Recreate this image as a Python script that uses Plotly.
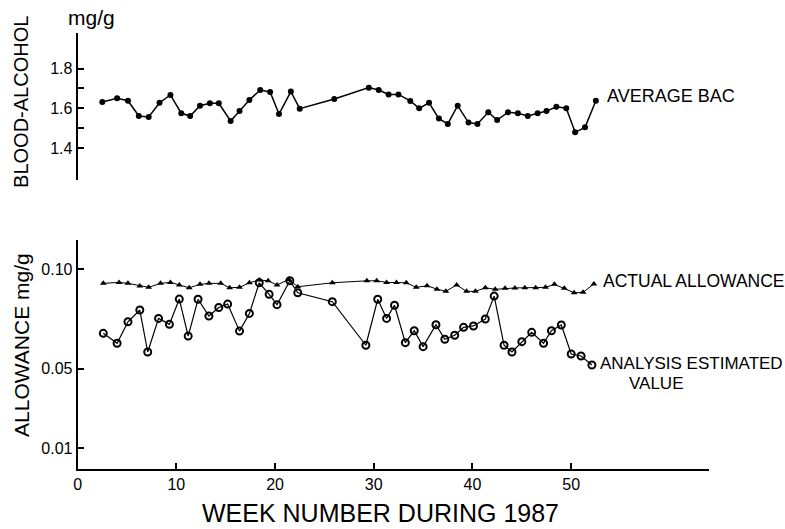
import plotly.graph_objects as go

# ---- data ----
bac_week = [2.5, 4.0, 5.1, 6.2, 7.2, 8.3, 9.4, 10.5, 11.4, 12.4, 13.4, 14.3, 15.5, 16.4, 17.4,
            18.5, 19.5, 20.4, 21.6, 22.5, 26.0, 29.5, 30.5, 31.5, 32.5, 33.7, 34.6, 35.6, 36.6,
            37.5, 38.5, 39.6, 40.5, 41.6, 42.5, 43.6, 44.6, 45.6, 46.6, 47.5, 48.5, 49.5, 50.4,
            51.4, 52.5]
bac_value = [1.632, 1.650, 1.638, 1.561, 1.556, 1.628, 1.667, 1.575, 1.561, 1.613, 1.625, 1.625,
             1.536, 1.586, 1.642, 1.692, 1.682, 1.571, 1.684, 1.598, 1.647, 1.704, 1.692, 1.670,
             1.670, 1.637, 1.600, 1.628, 1.548, 1.521, 1.613, 1.528, 1.521, 1.580, 1.541, 1.580,
             1.575, 1.561, 1.575, 1.586, 1.608, 1.600, 1.479, 1.504, 1.638]

actual_week = [2.6, 4.2, 5.1, 6.3, 7.2, 8.4, 9.4, 10.3, 11.3, 12.4, 13.3, 14.5, 15.4, 16.4, 17.4,
               18.4, 19.3, 20.2, 21.4, 22.3, 25.8, 29.3, 30.3, 31.3, 32.3, 33.3, 34.3, 35.4, 36.4,
               37.3, 38.4, 39.4, 40.3, 41.3, 42.3, 43.3, 44.3, 45.3, 46.4, 47.4, 48.3, 49.3, 50.3,
               51.2, 52.3]
actual_value = [0.0928, 0.0933, 0.0928, 0.0915, 0.0908, 0.0928, 0.0933, 0.0920, 0.0906, 0.0923,
                0.0928, 0.0928, 0.0906, 0.0908, 0.0931, 0.0945, 0.0941, 0.0920, 0.0948, 0.0911,
                0.0931, 0.0941, 0.0941, 0.0933, 0.0933, 0.0931, 0.0908, 0.0916, 0.0899, 0.0888,
                0.0920, 0.0888, 0.0888, 0.0906, 0.0898, 0.0903, 0.0905, 0.0906, 0.0906, 0.0908,
                0.0923, 0.0903, 0.0881, 0.0883, 0.0925]

est_week = [2.6, 4.0, 5.1, 6.3, 7.1, 8.2, 9.3, 10.3, 11.2, 12.2, 13.3, 14.3, 15.2, 16.4, 17.4,
            18.4, 19.4, 20.2, 21.5, 22.3, 25.8, 29.2, 30.4, 31.3, 32.1, 33.2, 34.1, 35.0, 36.3,
            37.2, 38.2, 39.1, 40.1, 41.3, 42.2, 43.2, 44.0, 45.0, 46.0, 47.2, 48.0, 49.0, 50.0,
            51.0, 52.1]
est_value = [0.0677, 0.0627, 0.0735, 0.0794, 0.0583, 0.0752, 0.0722, 0.0849, 0.0663, 0.0848,
             0.0764, 0.0807, 0.0824, 0.0688, 0.0777, 0.0931, 0.0873, 0.0821, 0.0941, 0.0881,
             0.0836, 0.0617, 0.0848, 0.0752, 0.0818, 0.0630, 0.0690, 0.0610, 0.0720, 0.0647,
             0.0667, 0.0707, 0.0714, 0.0749, 0.0864, 0.0617, 0.0583, 0.0635, 0.0682, 0.0627,
             0.0690, 0.0719, 0.0573, 0.0563, 0.0518]

x_ticks = [0, 10, 20, 30, 40, 50]
top_ticks = [1.4, 1.5, 1.6, 1.7, 1.8]
top_ticktext = ["1.4", "", "1.6", "", "1.8"]
bot_ticks = [0.01, 0.05, 0.10]
bot_ticktext = ["0.01", "0.05", "0.10"]

FONT = "Liberation Sans, Arial, sans-serif"
W, H = 785, 529

fig = go.Figure()

fig.add_trace(go.Scatter(x=bac_week, y=bac_value, mode="lines+markers",
                         line=dict(color="black", width=1.5),
                         marker=dict(symbol="circle", size=6, color="black"),
                         xaxis="x2", yaxis="y2", showlegend=False))
fig.add_trace(go.Scatter(x=actual_week, y=actual_value, mode="lines+markers",
                         line=dict(color="black", width=1),
                         marker=dict(symbol="triangle-up", size=6, color="black"),
                         xaxis="x", yaxis="y", showlegend=False))
fig.add_trace(go.Scatter(x=est_week, y=est_value, mode="lines+markers",
                         line=dict(color="black", width=1.2),
                         marker=dict(symbol="circle-open", size=7, color="black",
                                     line=dict(width=2, color="black")),
                         xaxis="x", yaxis="y", showlegend=False))

xdom = [74 / W, 709 / W]

def py(px):
    return 1 - px / H

fig.update_layout(
    width=W, height=H,
    margin=dict(l=0, r=0, t=0, b=0),
    paper_bgcolor="white", plot_bgcolor="white",
    font=dict(family=FONT, color="black"),
    xaxis=dict(domain=xdom, range=[0, 64], anchor="y",
               showline=True, linecolor="black", linewidth=2,
               ticks="inside", ticklen=6, tickwidth=1.5, tickcolor="black",
               tickvals=x_ticks, ticktext=[str(v) for v in x_ticks],
               tickfont=dict(size=16, family=FONT),
               showgrid=False, zeroline=False),
    yaxis=dict(domain=[py(469), py(240)], range=[-0.0005, 0.1146], anchor="x",
               showline=True, linecolor="black", linewidth=2,
               ticks="inside", ticklen=6, tickwidth=1.5, tickcolor="black",
               tickvals=bot_ticks, ticktext=bot_ticktext,
               tickfont=dict(size=16, family=FONT),
               showgrid=False, zeroline=False),
    xaxis2=dict(domain=xdom, range=[0, 64], anchor="y2", matches="x",
                visible=False, showgrid=False, zeroline=False),
    yaxis2=dict(domain=[py(180), py(33)], range=[1.239, 1.979], anchor="x2",
                showline=True, linecolor="black", linewidth=2,
                ticks="inside", ticklen=6, tickwidth=1.5, tickcolor="black",
                tickvals=top_ticks, ticktext=top_ticktext,
                tickfont=dict(size=16, family=FONT),
                showgrid=False, zeroline=False),
)

ann = [
    dict(text="mg/g", x=62 / W, y=py(18), xanchor="left", yanchor="middle", size=21),
    dict(text="BLOOD-ALCOHOL", x=17 / W, y=py(102), xanchor="center", yanchor="middle", size=20, angle=-90),
    dict(text="ALLOWANCE mg/g", x=17 / W, y=py(345), xanchor="center", yanchor="middle", size=21, angle=-90),
    dict(text="WEEK NUMBER DURING 1987", x=378 / W, y=py(513), xanchor="center", yanchor="middle", size=25),
    dict(text="AVERAGE BAC", x=604 / W, y=py(96), xanchor="left", yanchor="middle", size=18),
    dict(text="ACTUAL ALLOWANCE", x=600 / W, y=py(281), xanchor="left", yanchor="middle", size=17.5),
    dict(text="ANALYSIS ESTIMATED", x=597 / W, y=py(363), xanchor="left", yanchor="middle", size=17),
    dict(text="VALUE", x=656 / W, y=py(383), xanchor="center", yanchor="middle", size=17),
]
for a in ann:
    fig.add_annotation(text=a["text"], x=a["x"], y=a["y"], xref="paper", yref="paper",
                       xanchor=a["xanchor"], yanchor=a["yanchor"], showarrow=False,
                       textangle=a.get("angle", 0),
                       font=dict(size=a["size"], family=FONT, color="black"))

fig.write_html("out.html")
